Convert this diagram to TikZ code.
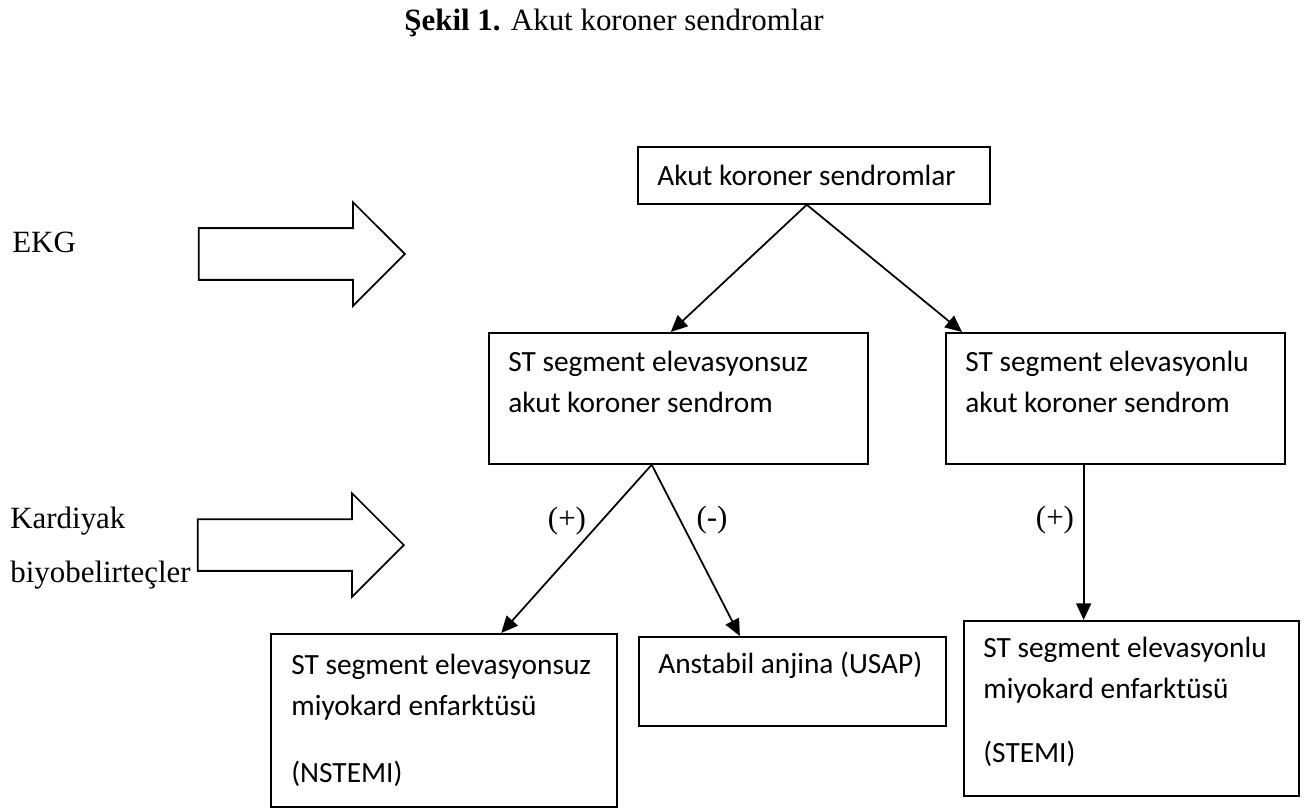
\documentclass[tikz,border=0pt]{standalone}
\usepackage{fontspec}
\setmainfont{Liberation Serif}
\newfontfamily\calfont{Carlito}
\usetikzlibrary{positioning,calc,arrows.meta,shapes.arrows}

\tikzset{
  box/.style={draw, line width=1pt, anchor=north west, inner sep=0pt},
  txt/.style={anchor=base west, inner sep=0pt, align=left, font={\calfont\fontsize{16.7}{23.3}\selectfont}},
  lbl/.style={inner sep=0pt, font={\fontsize{17.6}{21}\selectfont}},
  arr/.style={line width=1pt, -{Triangle[length=9.5pt,width=8.5pt]}},
  bigarr/.style={draw, line width=1pt, single arrow, anchor=tip, minimum height=4.12cm,
    inner xsep=0pt, inner ysep=0.5cm, single arrow head extend=0.52cm}
}

\begin{document}
\begin{tikzpicture}[x=0.02cm, y=-0.02cm]
\useasboundingbox (0,0) rectangle (1316,808);

\node[lbl, anchor=base] (title) at (614,31) {\textbf{Şekil 1.} Akut koroner sendromlar};

% left side (multi-line nodes sit on their last baseline)
\node[lbl, anchor=base west] (ekg) at (12,252) {EKG};
\node[lbl, anchor=base west, align=left, font={\fontsize{17.6}{30.7}\selectfont}] (kb) at (10,582) {Kardiyak\\biyobelirteçler};
\node[bigarr] (ekgarr) at (406,254) {};
\node[bigarr] (kbarr) at (405,545) {};

% boxes
\node[box, minimum width=7.04cm, minimum height=1.14cm] (akut) at (637,146) {};
\node[txt] (akutt) at (657,185) {Akut koroner sendromlar};

\node[box, minimum width=7.58cm, minimum height=2.62cm] (nsteacs) at (488,332) {};
\node[txt] (nsteacst) at (508,412) {ST segment elevasyonsuz\\akut koroner sendrom};

\node[box, minimum width=6.78cm, minimum height=2.62cm] (steacs) at (945,332) {};
\node[txt] (steacst) at (965,412) {ST segment elevasyonlu\\akut koroner sendrom};

\node[box, minimum width=6.92cm, minimum height=3.46cm] (nstemi) at (270,633) {};
\node[txt] (nstemit) at (291,782) {ST segment elevasyonsuz\\miyokard enfarktüsü\\[14.8pt](NSTEMI)};

\node[box, minimum width=6.14cm, minimum height=1.78cm] (usap) at (638,636) {};
\node[txt] (usapt) at (658,673) {Anstabil anjina (USAP)};

\node[box, minimum width=6.70cm, minimum height=3.5cm] (stemi) at (963,620) {};
\node[txt] (stemit) at (983,762) {ST segment elevasyonlu\\miyokard enfarktüsü\\[13pt](STEMI)};

% connectors
\coordinate (akutb) at ($(akut.south west)!0.48!(akut.south east)$);
\coordinate (nsteacsb) at ($(nsteacs.south west)!0.43!(nsteacs.south east)$);
\coordinate (steacsb) at ($(steacs.south west)!0.407!(steacs.south east)$);

\draw[arr] (akutb) -- ($(nsteacs.north west)!0.48!(nsteacs.north east)$);
\draw[arr] (akutb) -- ($(steacs.north west)!0.05!(steacs.north east)$);
\draw[arr] (nsteacsb) -- ($(nstemi.north west)!0.665!(nstemi.north east)$);
\draw[arr] (nsteacsb) -- ($(usap.north west)!0.33!(usap.north east)$);
\draw[arr] (steacsb) -- (steacsb |- stemi.north);

\node[lbl] (plusa) at (567,521) {(+)};
\node[lbl] (minus) at (712,520) {(-)};
\node[lbl] (plusb) at (1055,520) {(+)};

\end{tikzpicture}
\end{document}
